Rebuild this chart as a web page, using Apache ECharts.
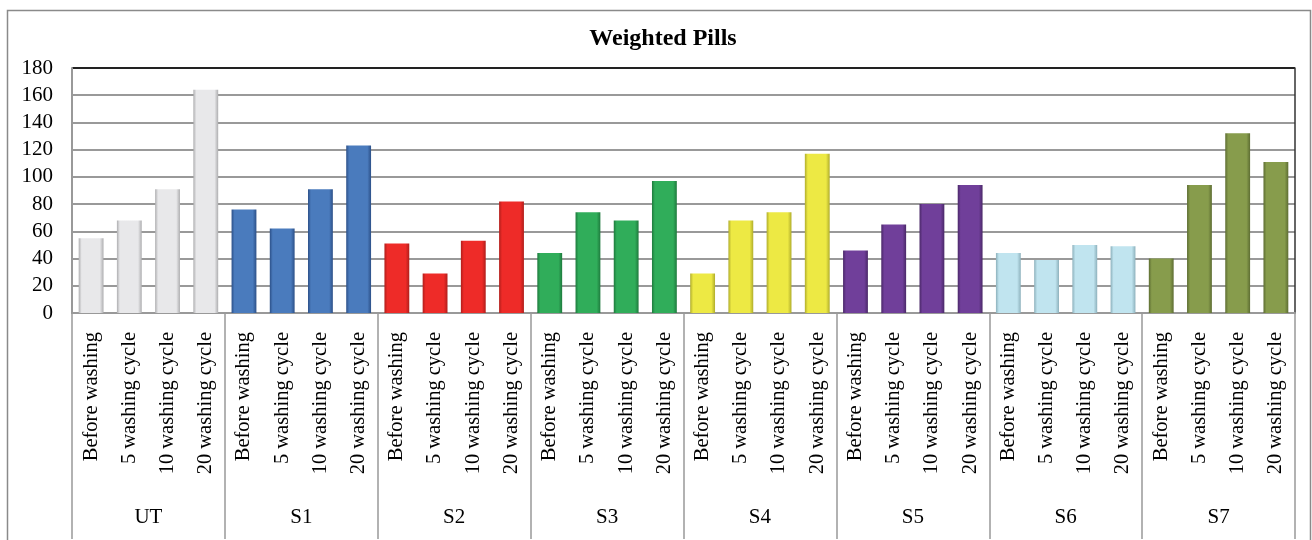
<!DOCTYPE html>
<html>
<head>
<meta charset="utf-8">
<script src="https://cdn.jsdelivr.net/npm/echarts@6/dist/echarts.min.js"></script>
<style>
html,body{margin:0;padding:0;background:#fff;}
#chart{width:1312px;height:540px;}
</style>
</head>
<body>
<div id="chart"></div>
<script>
const groups = ['UT','S1','S2','S3','S4','S5','S6','S7'];
const conditions = ['Before washing','5 washing cycle','10 washing cycle','20 washing cycle'];
const utValues = [55, 68, 91, 164];
const s1Values = [76, 62, 91, 123];
const s2Values = [51, 29, 53, 82];
const s3Values = [44, 74, 68, 97];
const s4Values = [29, 68, 74, 117];
const s5Values = [46, 65, 80, 94];
const s6Values = [44, 39, 50, 49];
const s7Values = [40, 94, 132, 111];
const yTicks = [0, 20, 40, 60, 80, 100, 120, 140, 160, 180];
const groupColors = [
  ['#e8e8ea', '#aeaeb0'],
  ['#4a7bbd', '#2c5088'],
  ['#ee2b28', '#b01e1b'],
  ['#30ad5a', '#1e7a3d'],
  ['#ede944', '#b0ad2c'],
  ['#703f9a', '#4a2868'],
  ['#c0e4ef', '#8db1bc'],
  ['#879c4c', '#5d6d32']
];

const allValues = [utValues, s1Values, s2Values, s3Values, s4Values, s5Values, s6Values, s7Values];
const categories = [];
const barData = [];
groups.forEach((g, gi) => {
  conditions.forEach((c, ci) => {
    categories.push(c);
    const [base, edge] = groupColors[gi];
    barData.push({
      value: allValues[gi][ci],
      itemStyle: {
        color: new echarts.graphic.LinearGradient(0, 0, 1, 0, [
          {offset: 0, color: edge},
          {offset: 0.12, color: base},
          {offset: 0.5, color: base},
          {offset: 0.85, color: base},
          {offset: 1, color: edge}
        ])
      }
    });
  });
});

const font = 'Liberation Serif';
const chart = echarts.init(document.getElementById('chart'));
chart.setOption({
  animation: false,
  backgroundColor: '#fff',
  textStyle: {fontFamily: font},
  title: {
    text: 'Weighted Pills',
    left: 658, top: 22,
    textAlign: 'center',
    textStyle: {fontFamily: font, fontWeight: 'bold', fontSize: 24, color: '#000'}
  },
  graphic: [{
    type: 'rect',
    shape: {x: 7.5, y: 10.5, width: 1303, height: 560},
    style: {fill: 'none', stroke: '#8a8a8a', lineWidth: 1.5},
    silent: true
  }],
  grid: {left: 72, right: 17, top: 68, bottom: 227, containLabel: false},
  xAxis: [{
    type: 'category',
    data: categories,
    position: 'bottom',
    axisLine: {show: true, lineStyle: {color: '#999', width: 2}},
    axisTick: {show: false},
    axisLabel: {
      interval: 0, rotate: 90, margin: 19,
      fontFamily: font, fontSize: 20.5, color: '#000'
    },
    splitLine: {show: false}
  }, {
    type: 'category',
    data: groups,
    position: 'bottom',
    axisLine: {show: false},
    axisTick: {show: true, interval: 0, length: 226, lineStyle: {color: '#999', width: 1.5}},
    axisLabel: {interval: 0, margin: 194, fontFamily: font, fontSize: 21, color: '#000'},
    splitLine: {show: false}
  }],
  yAxis: [{
    type: 'value',
    min: 0, max: 180, interval: 20,
    axisLine: {show: true, lineStyle: {color: '#999', width: 2}},
    axisTick: {show: false},
    axisLabel: {
      margin: 19, fontFamily: font, fontSize: 21, color: '#000',
      formatter: v => yTicks.includes(v) ? String(v) : ''
    },
    splitLine: {
      show: true,
      lineStyle: {color: ['#999','#999','#999','#999','#999','#999','#999','#999','#999','#222'], width: 2}
    }
  }, {
    type: 'value',
    position: 'right',
    min: 0, max: 180, interval: 20,
    axisLine: {show: true, lineStyle: {color: '#333', width: 1.5}},
    axisTick: {show: false},
    axisLabel: {show: false},
    splitLine: {show: false}
  }],
  series: [{
    type: 'bar',
    xAxisIndex: 0,
    yAxisIndex: 0,
    data: barData,
    barCategoryGap: '35%'
  }]
});
</script>
</body>
</html>
